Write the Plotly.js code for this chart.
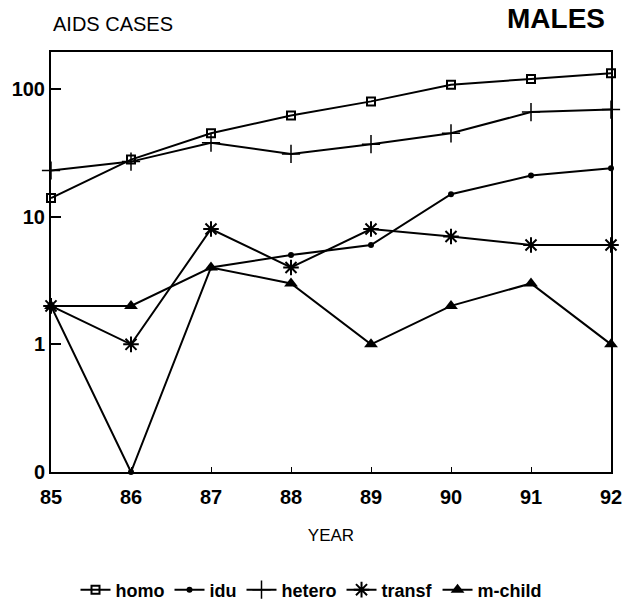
<!DOCTYPE html>
<html>
<head>
<meta charset="utf-8">
<script src="https://cdn.plot.ly/plotly-3.0.1.min.js"></script>
<style>html,body{margin:0;padding:0;background:#fff;}#chart{width:623px;height:602px;}</style>
</head>
<body>
<div id="chart"></div>
<script>
// Data
const years = [85, 86, 87, 88, 89, 90, 91, 92];
const homo = [14, 28, 45, 62, 80, 108, 120, 133];
const idu = [2, 0, 4, 5, 6, 15, 21, 24];
const hetero = [23, 27, 38, 31, 37, 45, 66, 69];
const transf = [2, 1, 8, 4, 8, 7, 6, 6];
const mchild = [2, 2, 4, 3, 1, 2, 3, 1];
const yTickVals = [0.1, 1, 10, 100];
const yTickText = ["0", "1", "10", "100"];
const xTickText = ["85", "86", "87", "88", "89", "90", "91", "92"];

// On the log axis, a count of 0 is drawn at the "0" baseline (0.1)
const floorZero = arr => arr.map(v => v === 0 ? 0.1 : v);

const F = "Liberation Sans, Arial, sans-serif";
const base = {type: "scatter", mode: "lines+markers", x: years, cliponaxis: false,
  line: {color: "#000", width: 2}};

const traces = [
  Object.assign({}, base, {name: "homo", y: floorZero(homo),
    marker: {symbol: "square-open", size: 8, color: "#000", line: {width: 2, color: "#000"}}}),
  Object.assign({}, base, {name: "idu", y: floorZero(idu),
    marker: {symbol: "circle", size: 6, color: "#000"}}),
  Object.assign({}, base, {name: "hetero", y: floorZero(hetero),
    marker: {symbol: "cross-thin-open", size: 13, color: "#000", line: {width: 1.5, color: "#000"}}}),
  Object.assign({}, base, {name: "transf", y: floorZero(transf),
    marker: {symbol: "asterisk-open", size: 13, color: "#000", line: {width: 2, color: "#000"}}}),
  Object.assign({}, base, {name: "m-child", y: floorZero(mchild),
    marker: {symbol: "triangle-up", size: 12, color: "#000"}})
];

const layout = {
  width: 623, height: 602,
  margin: {l: 51, r: 12, t: 52, b: 130},
  paper_bgcolor: "#fff", plot_bgcolor: "#fff",
  showlegend: true,
  legend: {orientation: "h", xref: "container", yref: "container", x: 0.5, xanchor: "center",
    y: 0.02, yanchor: "middle",
    font: {family: F, size: 18, color: "#000", weight: "bold"}, itemwidth: 30, tracegroupgap: 0},
  xaxis: {range: [85, 92], tickvals: years, ticktext: xTickText,
    showline: true, mirror: true, linecolor: "#000", linewidth: 2,
    ticks: "inside", ticklen: 5, tickcolor: "#000", tickwidth: 1,
    showgrid: false, zeroline: false, ticklabelstandoff: 6,
    tickfont: {family: F, size: 20, color: "#000", weight: "bold"},
    title: {text: "YEAR", font: {family: F, size: 17, color: "#000"}, standoff: 22}},
  yaxis: {type: "log", range: [-1, 2.29], tickvals: yTickVals, ticktext: yTickText,
    showline: true, mirror: true, linecolor: "#000", linewidth: 2,
    ticks: "inside", ticklen: 10, tickcolor: "#000", tickwidth: 2,
    showgrid: false, zeroline: false, ticklabelstandoff: 0,
    tickfont: {family: F, size: 20, color: "#000", weight: "bold"}},
  annotations: [
    {text: "AIDS CASES", xref: "paper", yref: "paper", x: 0, y: 1.067, xanchor: "left", yanchor: "middle",
      showarrow: false, font: {family: F, size: 20, color: "#000"}},
    {text: "<b>MALES</b>", xref: "paper", yref: "paper", x: 0.993, y: 1.079, xanchor: "right", yanchor: "middle",
      showarrow: false, font: {family: F, size: 28, color: "#000"}}
  ]
};

Plotly.newPlot("chart", traces, layout, {displayModeBar: false, staticPlot: true});
</script>
</body>
</html>
